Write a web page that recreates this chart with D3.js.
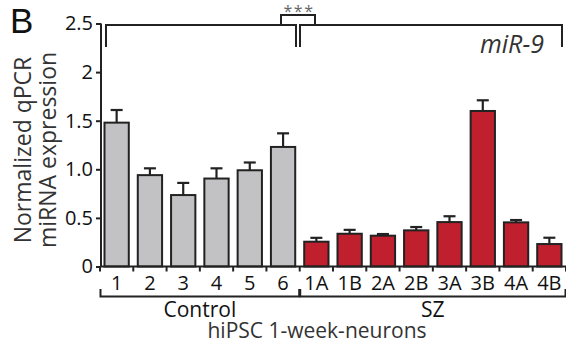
<!DOCTYPE html>
<html>
<head>
<meta charset="utf-8">
<script src="https://cdn.jsdelivr.net/npm/d3@7"></script>
<style>
  body { margin: 0; background: #fff; }
  svg { display: block; font-family: 'Open Sans', sans-serif; }
</style>
</head>
<body>
<svg id="chart" width="566" height="350"></svg>
<script>
// Data
const categories = ['1', '2', '3', '4', '5', '6', '1A', '1B', '2A', '2B', '3A', '3B', '4A', '4B'];
const groups = ['Control', 'Control', 'Control', 'Control', 'Control', 'Control',
    'SZ', 'SZ', 'SZ', 'SZ', 'SZ', 'SZ', 'SZ', 'SZ'];
const values = [1.48, 0.94, 0.735, 0.905, 0.99, 1.23, 0.255, 0.337, 0.317, 0.372, 0.457, 1.60, 0.454, 0.231];
const errors = [0.13, 0.07, 0.125, 0.105, 0.08, 0.14, 0.04, 0.04, 0.017, 0.034, 0.06, 0.11, 0.024, 0.065];
const yTicks = [0, 0.5, 1.0, 1.5, 2, 2.5];
const yTickLabels = ['0', '0.5', '1.0', '1.5', '2', '2.5'];

const svg = d3.select('#chart');
const ink = '#222';
const textCol = '#333';

const x = d3.scaleBand().domain(categories).range([100, 566]).paddingInner(0.27).paddingOuter(0.135);
const y = d3.scaleLinear().domain([0, 2.5]).range([266.5, 23.5]);

// Panel letter
svg.append('text')
    .attr('x', 10).attr('y', 33)
    .attr('font-size', 35)
    .attr('font-family', "'Liberation Sans', sans-serif")
    .attr('fill', '#111')
    .text('B');

// Bars
svg.append('g').selectAll('rect')
    .data(categories)
    .join('rect')
    .attr('x', d => x(d))
    .attr('y', (d, i) => y(values[i]))
    .attr('width', x.bandwidth())
    .attr('height', (d, i) => y(0) - y(values[i]))
    .attr('fill', (d, i) => groups[i] === 'Control' ? '#c2c2c4' : '#c01f2e')
    .attr('stroke', ink)
    .attr('stroke-width', 2);

// Error bars (upper only)
const err = svg.append('g').attr('stroke', ink).attr('stroke-width', 2.2);
categories.forEach((c, i) => {
    const cx = x(c) + x.bandwidth() / 2;
    err.append('line')
        .attr('x1', cx).attr('x2', cx)
        .attr('y1', y(values[i])).attr('y2', y(values[i] + errors[i]));
    err.append('line')
        .attr('x1', cx - 6).attr('x2', cx + 6)
        .attr('y1', y(values[i] + errors[i])).attr('y2', y(values[i] + errors[i]));
});

// Y axis
const yAxis = svg.append('g')
    .attr('transform', 'translate(101,0)')
    .call(d3.axisLeft(y).tickValues(yTicks).tickFormat((d, i) => yTickLabels[i]).tickSize(5).tickPadding(3));
yAxis.select('.domain').attr('stroke', ink).attr('stroke-width', 2).attr('d', `M0,${y(2.5)}V${y(0)}`);
yAxis.selectAll('.tick line').attr('stroke', ink).attr('stroke-width', 2);
yAxis.selectAll('.tick text').attr('font-size', 20).attr('fill', '#111').attr('font-family', "'Open Sans', sans-serif");

// X axis with ticks at band boundaries
const xAxis = svg.append('g');
xAxis.append('line')
    .attr('x1', 100).attr('x2', 566)
    .attr('y1', y(0)).attr('y2', y(0))
    .attr('stroke', ink).attr('stroke-width', 2);
const step = x.step();
const bounds = d3.range(categories.length + 1).map(i => 100 + i * step);
xAxis.selectAll('line.tk')
    .data(bounds)
    .join('line')
    .attr('class', 'tk')
    .attr('x1', d => d).attr('x2', d => d)
    .attr('y1', y(0)).attr('y2', y(0) + 5)
    .attr('stroke', ink).attr('stroke-width', 2);
xAxis.selectAll('text')
    .data(categories)
    .join('text')
    .attr('x', d => x(d) + x.bandwidth() / 2)
    .attr('y', 290)
    .attr('text-anchor', 'middle')
    .attr('font-size', 20)
    .attr('fill', '#111')
    .text(d => d);

// Group brackets below axis
function bracketBelow(first, last, label) {
    const x0 = x(first) - step * 0.12;
    const x1 = x(last) + x.bandwidth() + step * 0.12;
    svg.append('path')
        .attr('d', `M${x0},289V296.5H${x1}V289`)
        .attr('fill', 'none').attr('stroke', ink).attr('stroke-width', 2);
    svg.append('text')
        .attr('x', (x0 + x1) / 2).attr('y', 317)
        .attr('text-anchor', 'middle')
        .attr('font-size', 21)
        .attr('fill', '#111')
        .text(label);
}
bracketBelow('1', '6', 'Control');
bracketBelow('1A', '4B', 'SZ');

svg.append('text')
    .attr('x', 317).attr('y', 338)
    .attr('text-anchor', 'middle')
    .attr('font-size', 21)
    .attr('fill', textCol)
    .text('hiPSC 1-week-neurons');

// Y label
const yl = svg.append('text')
    .attr('transform', 'translate(0,150) rotate(-90)')
    .attr('text-anchor', 'middle')
    .attr('font-size', 23)
    .attr('fill', textCol);
yl.append('tspan').attr('x', 0).attr('y', 31).text('Normalized qPCR');
yl.append('tspan').attr('x', 0).attr('y', 56).text('miRNA expression');

// Significance brackets on top
const sig = svg.append('g').attr('fill', 'none').attr('stroke', ink).attr('stroke-width', 2);
sig.append('path').attr('d', `M106,47V25H296V47`);
sig.append('path').attr('d', `M300,47V25H562V47`);
sig.append('path').attr('d', `M281,25V15H315V25`);
svg.append('text')
    .attr('x', 299).attr('y', 16.5)
    .attr('text-anchor', 'middle')
    .attr('font-size', 16)
    .attr('letter-spacing', 1.5)
    .attr('fill', '#666')
    .text('***');

svg.append('text')
    .attr('x', 544).attr('y', 52.5)
    .attr('text-anchor', 'end')
    .attr('font-size', 25)
    .attr('font-style', 'italic')
    .attr('fill', textCol)
    .text('miR-9');
</script>
</body>
</html>
